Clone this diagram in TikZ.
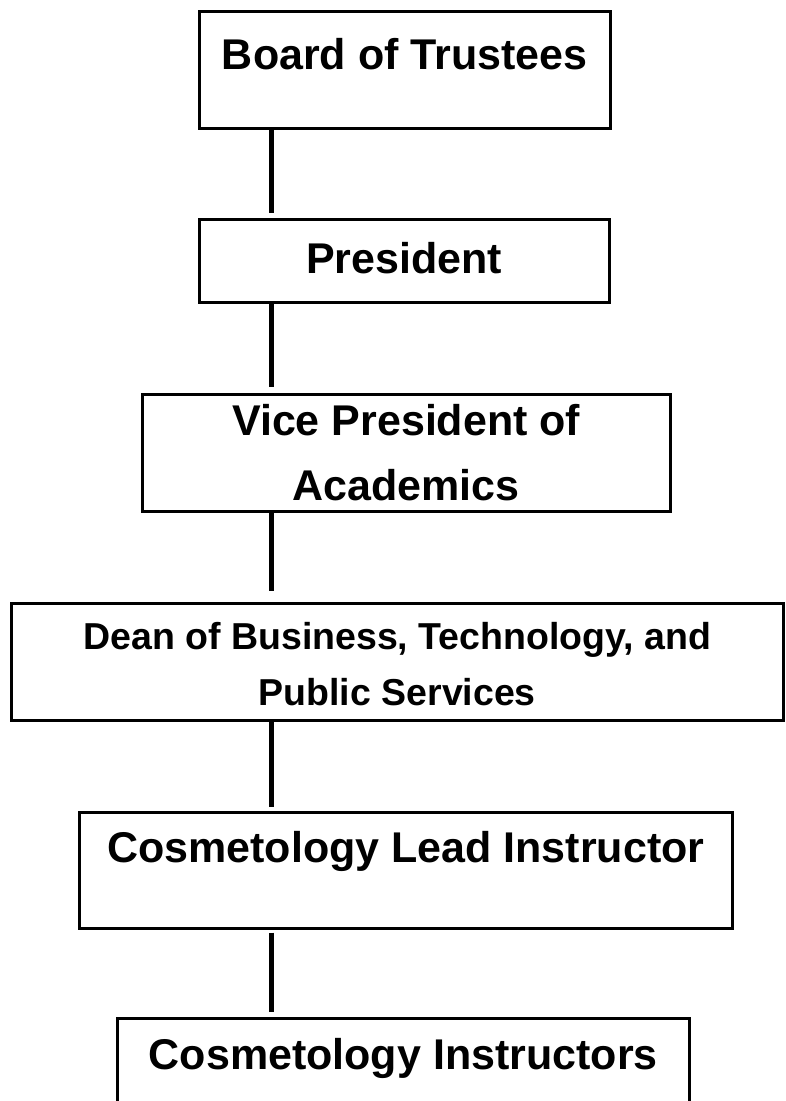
\documentclass[tikz,border=0pt]{standalone}
\usepackage{fontspec}
\setmainfont{Liberation Sans}

\tikzset{
	box/.style={draw=black, line width=2.5pt, rectangle, anchor=north west, inner sep=0pt, font=\fontsize{43}{65}\selectfont\bfseries},
	link/.style={line width=5pt}
}

\begin{document}
\begin{tikzpicture}[x=1pt, y=-1pt]
	\useasboundingbox (0,0) rectangle (785,1101);
	\clip (0,0) rectangle (785,1101);
	
	\node[box, minimum width=411, text height=58, text depth=59] (board) at (198,10) {Board of Trustees};
	
	\node[box, minimum width=410, text height=54, text depth=29] (pres) at (198,218) {President};
	
	\node[box, minimum width=528, text height=41, text depth=76] (vp) at (141,393) {\begin{tabular}[t]{@{}c@{}}Vice President of\\ Academics\end{tabular}};
	
	\node[box, minimum width=772, text height=46, text depth=71, font=\fontsize{37.5}{56}\selectfont\bfseries] (dean) at (10,602) {\begin{tabular}[t]{@{}c@{}}Dean of Business, Technology, and\\ Public Services\end{tabular}};
	
	\node[box, minimum width=653, text height=50, text depth=66] (lead) at (78,811) {Cosmetology Lead Instructor};
	
	\node[box, minimum width=572, text height=51, text depth=60] (instr) at (116,1017) {Cosmetology Instructors};
	
	% reporting line
	\coordinate (spine) at (271,0);
	
	\draw[link, shorten >=5pt] (board.south -| spine) -- (pres.north -| spine);
	
	\draw[link, shorten >=6pt] (pres.south -| spine) -- (vp.north -| spine);
	
	\draw[link, shorten >=11pt] (vp.south -| spine) -- (dean.north -| spine);
	
	\draw[link, shorten >=4pt] (dean.south -| spine) -- (lead.north -| spine);
	
	\draw[link, shorten <=3pt, shorten >=5pt] (lead.south -| spine) -- (instr.north -| spine);
	
\end{tikzpicture}
\end{document}
